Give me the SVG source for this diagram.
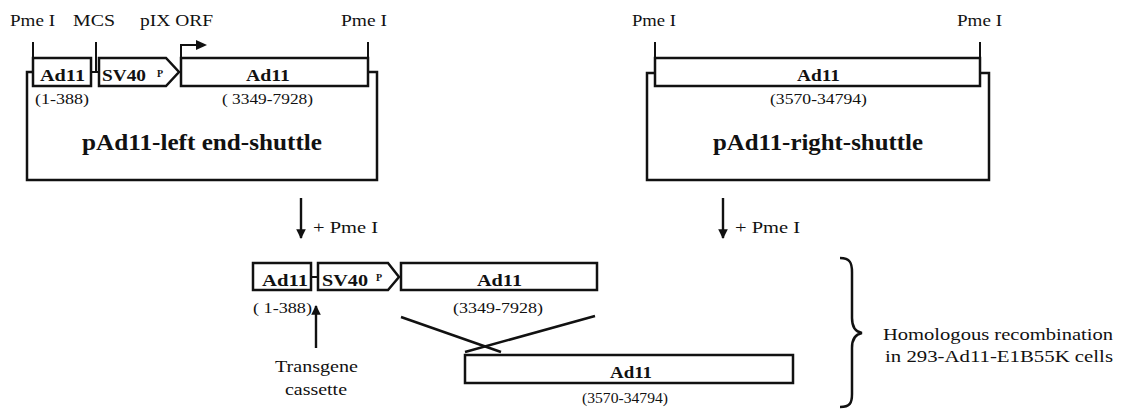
<svg xmlns="http://www.w3.org/2000/svg" width="1133" height="409" viewBox="0 0 1133 409">
  <style>
    .ln { fill: none; stroke: #111; stroke-width: 2.5; }
    .box { fill: #fff; stroke: #111; stroke-width: 2.5; }
    .thin { fill: none; stroke: #111; stroke-width: 2; }
    .arr { fill: none; stroke: #111; stroke-width: 2.4; }
    text { font-family: "Liberation Serif", "Times New Roman", serif; fill: #111; }
    .lbl { font-size: 17px; }
    .num { font-size: 14.5px; }
    .bl { font-size: 17px; font-weight: bold; }
    .sup { font-size: 10px; font-weight: bold; }
    .ttl { font-size: 23px; font-weight: bold; }
  </style>
  <defs>
    <marker id="head" viewBox="0 0 10 10" refX="9" refY="5" markerWidth="4.5" markerHeight="4" orient="auto" markerUnits="strokeWidth">
      <path d="M0,0 L10,5 L0,10 Z" fill="#111"/>
    </marker>
  </defs>
  <rect width="1133" height="409" fill="#fff"/>

  <!-- left-end shuttle plasmid -->
  <g id="left-shuttle">
    <path class="ln" d="M33,72 H27 V180 H377 V72 H368"/>
    <line class="thin" x1="33" y1="42" x2="33" y2="58"/>
    <line class="thin" x1="96" y1="42" x2="96" y2="72"/>
    <line class="thin" x1="91" y1="72" x2="99" y2="72"/>
    <line class="thin" x1="368" y1="42" x2="368" y2="58"/>
    <rect class="box" x="33" y="58" width="58" height="28"/>
    <path class="box" d="M99,58 H166 L179,72 L166,86 H99 Z"/>
    <rect class="box" x="181" y="58" width="187" height="28"/>
    <path class="thin" d="M181,58 V45 H198"/>
    <path d="M196,40 L207,45 L196,50 Z" fill="#111"/>
    <text class="lbl" x="10" y="26" textLength="45" lengthAdjust="spacingAndGlyphs">Pme I</text>
    <text class="lbl" x="73" y="26" textLength="42" lengthAdjust="spacingAndGlyphs">MCS</text>
    <text class="lbl" x="140" y="26" textLength="73" lengthAdjust="spacingAndGlyphs">pIX ORF</text>
    <text class="lbl" x="341" y="26" textLength="46" lengthAdjust="spacingAndGlyphs">Pme I</text>
    <text class="bl" x="40" y="81" textLength="45" lengthAdjust="spacingAndGlyphs">Ad11</text>
    <text class="bl" x="102" y="81" textLength="44" lengthAdjust="spacingAndGlyphs">SV40</text>
    <text class="sup" x="157" y="77">P</text>
    <text class="bl" x="246" y="81" textLength="44" lengthAdjust="spacingAndGlyphs">Ad11</text>
    <text class="num" x="35" y="104" textLength="54" lengthAdjust="spacingAndGlyphs">(1-388)</text>
    <text class="num" x="222" y="104" textLength="91" lengthAdjust="spacingAndGlyphs">( 3349-7928)</text>
    <text class="ttl" x="82" y="150" textLength="240" lengthAdjust="spacingAndGlyphs">pAd11-left end-shuttle</text>
  </g>

  <!-- right shuttle plasmid -->
  <g id="right-shuttle">
    <path class="ln" d="M655,73 H647 V180 H989 V73 H980"/>
    <line class="thin" x1="655" y1="42" x2="655" y2="58"/>
    <line class="thin" x1="980" y1="42" x2="980" y2="58"/>
    <rect class="box" x="655" y="58" width="325" height="28"/>
    <text class="lbl" x="632" y="26" textLength="44" lengthAdjust="spacingAndGlyphs">Pme I</text>
    <text class="lbl" x="957" y="26" textLength="45" lengthAdjust="spacingAndGlyphs">Pme I</text>
    <text class="bl" x="797" y="81" textLength="43" lengthAdjust="spacingAndGlyphs">Ad11</text>
    <text class="num" x="770" y="104" textLength="97" lengthAdjust="spacingAndGlyphs">(3570-34794)</text>
    <text class="ttl" x="713" y="150" textLength="210" lengthAdjust="spacingAndGlyphs">pAd11-right-shuttle</text>
  </g>

  <!-- linearized left fragment -->
  <g id="left-fragment">
    <line class="thin" x1="311" y1="277" x2="318" y2="277"/>
    <rect class="box" x="253" y="263" width="58" height="27"/>
    <path class="box" d="M318,263 H388 L399,277 L388,290 H318 Z"/>
    <rect class="box" x="401" y="263" width="196" height="27"/>
    <text class="bl" x="262" y="286" textLength="46" lengthAdjust="spacingAndGlyphs">Ad11</text>
    <text class="bl" x="322" y="286" textLength="46" lengthAdjust="spacingAndGlyphs">SV40</text>
    <text class="sup" x="376" y="281">P</text>
    <text class="bl" x="477" y="286" textLength="45" lengthAdjust="spacingAndGlyphs">Ad11</text>
    <text class="num" x="253" y="313" textLength="59" lengthAdjust="spacingAndGlyphs">( 1-388)</text>
    <text class="num" x="453" y="313" textLength="90" lengthAdjust="spacingAndGlyphs">(3349-7928)</text>
  </g>

  <!-- linearized right fragment -->
  <g id="right-fragment">
    <rect class="box" x="465" y="355" width="328" height="28"/>
    <text class="bl" x="610" y="378" textLength="42" lengthAdjust="spacingAndGlyphs">Ad11</text>
    <text class="num" x="582" y="403" textLength="86" lengthAdjust="spacingAndGlyphs">(3570-34794)</text>
  </g>

  <g id="transgene-label">
    <text class="lbl" x="275" y="372" textLength="83" lengthAdjust="spacingAndGlyphs">Transgene</text>
    <text class="lbl" x="285" y="395" textLength="62" lengthAdjust="spacingAndGlyphs">cassette</text>
  </g>

  <g id="recombination-label">
    <path class="ln" d="M840,258 C850,258 852,263 852,272 V318 C852,328 856,332 862,333 C856,334 852,338 852,348 V394 C852,403 850,407 840,407"/>
    <text class="lbl" x="883" y="340" textLength="230" lengthAdjust="spacingAndGlyphs">Homologous recombination</text>
    <text class="lbl" x="885" y="362" textLength="228" lengthAdjust="spacingAndGlyphs">in 293-Ad11-E1B55K cells</text>
  </g>

  <!-- connectors -->
  <g id="connectors">
    <line class="arr" x1="301" y1="198" x2="301" y2="238" marker-end="url(#head)"/>
    <text class="lbl" x="313" y="233" textLength="65" lengthAdjust="spacingAndGlyphs">+ Pme I</text>
    <line class="arr" x1="723" y1="198" x2="723" y2="238" marker-end="url(#head)"/>
    <text class="lbl" x="735" y="233" textLength="65" lengthAdjust="spacingAndGlyphs">+ Pme I</text>
    <line class="arr" x1="316" y1="348" x2="316" y2="306" marker-end="url(#head)"/>
    <line class="ln" x1="401" y1="317" x2="501" y2="352"/>
    <line class="ln" x1="595" y1="316" x2="465" y2="352"/>
  </g>
</svg>
